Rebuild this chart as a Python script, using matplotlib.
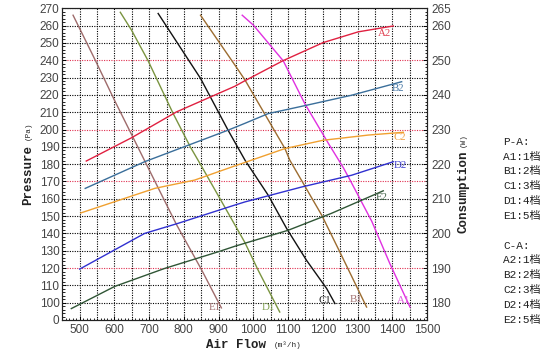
import matplotlib
matplotlib.use("Agg")
import matplotlib.pyplot as plt
from matplotlib.ticker import MultipleLocator, FixedLocator

# ---- P-A curves (left axis, pressure Pa vs air flow m3/h)
air_A1 = [968, 1000, 1086, 1148, 1216, 1259, 1278, 1341, 1393, 1451]
pa_A1 = [266, 260.3, 239.7, 215, 192, 178, 171, 147, 122.6, 97.5]
air_B1 = [848, 947, 976, 1004, 1091, 1105, 1197, 1249, 1326]
pa_B1 = [266, 237.2, 228.6, 218.9, 189, 182.3, 150.5, 129.3, 97.5]
air_C1 = [726, 848, 927, 976, 1043, 1096, 1153, 1211, 1235]
pa_C1 = [267, 229.5, 199.7, 182.3, 162, 142.8, 124.5, 108.2, 99.5]
air_D1 = [617, 649, 697, 769, 819, 848, 975, 1014, 1076]
pa_D1 = [267.7, 257.5, 239.7, 209.3, 189.8, 179.8, 135, 118.7, 94.6]
air_E1 = [481, 545, 600, 687, 779, 851, 908]
pa_E1 = [266, 240, 217, 182, 145, 119, 97]

# ---- C-A curves (right axis, consumption W vs air flow m3/h)
air_A2 = [519, 649, 779, 947, 976, 1086, 1201, 1302, 1403]
w_A2 = [220.9, 227.6, 235.1, 242.5, 244.1, 249.9, 255.1, 258.2, 259.9]
air_B2 = [516, 687, 927, 976, 1043, 1153, 1283, 1427]
w_B2 = [213, 220.7, 229.8, 231.8, 234.6, 237, 239.9, 243.8]
air_C2 = [503, 716, 831, 947, 976, 1091, 1201, 1331, 1432]
w_C2 = [205.9, 213, 215.4, 219.5, 220.5, 224.5, 226.9, 228.4, 229.2]
air_D2 = [500, 687, 783, 947, 976, 1139, 1283, 1403]
w_D2 = [189.7, 200, 202.9, 208.2, 209.1, 213.4, 216.8, 220.7]
air_E2 = [476, 601, 745, 899, 947, 1100, 1225, 1374]
w_E2 = [178.3, 184.7, 189.9, 194.7, 196.3, 200.9, 205.8, 212.3]

left_ticks = [90] + list(range(100, 271, 10))
left_labels = ["0"] + [str(v) for v in range(100, 271, 10)]
right_ticks = list(range(180, 261, 10)) + [265]
x_ticks = list(range(500, 1501, 100))
red_levels = [120, 170, 200, 240]

legend_lines = ["P-A:", "A1:1档", "B1:2档", "C1:3档", "D1:4档", "E1:5档", "",
                "C-A:", "A2:1档", "B2:2档", "C2:3档", "D2:4档", "E2:5档"]

W, H = 558, 358
fig = plt.figure(figsize=(W / 100, H / 100), dpi=100)
ax = fig.add_axes([62.3 / W, 1 - 320 / H, (427 - 62.3) / W, (320 - 8.3) / H])
ax2 = ax.twinx()

ax.set_xlim(450, 1500)
ax.set_ylim(90, 270)
ax2.set_ylim(175, 265)

# dotted grid, a few levels in red
dots = (0, (1, 1.2))
for x in range(500, 1500, 50):
    ax.axvline(x, color="#000000", lw=0.8, ls=dots, zorder=1)
for y in range(100, 271, 10):
    c = "#e03050" if y in red_levels else "#000000"
    ax.axhline(y, color=c, lw=0.8, ls=dots, zorder=1)

lw = 1.0
ax.plot(air_A1, pa_A1, color="#e030e0", lw=lw, zorder=3)
ax.plot(air_B1, pa_B1, color="#9c6c30", lw=lw, zorder=3)
ax.plot(air_C1, pa_C1, color="#111111", lw=lw, zorder=3)
ax.plot(air_D1, pa_D1, color="#7a9440", lw=lw, zorder=3)
ax.plot(air_E1, pa_E1, color="#9e6b6b", lw=lw, zorder=3)

ax2.plot(air_A2, w_A2, color="#e02040", lw=lw, zorder=3)
ax2.plot(air_B2, w_B2, color="#3a6e9a", lw=lw, zorder=3)
ax2.plot(air_C2, w_C2, color="#f0a030", lw=lw, zorder=3)
ax2.plot(air_D2, w_D2, color="#3030d0", lw=lw, zorder=3)
ax2.plot(air_E2, w_E2, color="#2f5535", lw=lw, zorder=3)

# curve labels
lab = dict(fontsize=7.8, family="Liberation Serif", ha="center", va="center", zorder=4)
ax.text(1432, 101, "A1", color="#e060e0", **lab)
ax.text(1297, 102, "B1", color="#a07070", **lab)
ax.text(1206, 101, "C1", color="#222222", **lab)
ax.text(1043, 97.5, "D1", color="#80a050", **lab)
ax.text(889, 97.5, "E1", color="#a07070", **lab)
ax2.text(1379, 257.8, "A2", color="#e04050", **lab)
ax2.text(1417, 241.9, "B2", color="#4a7aa8", **lab)
ax2.text(1422, 227.7, "C2", color="#f0a040", **lab)
ax2.text(1422, 219.7, "D2", color="#4040d0", **lab)
ax2.text(1369, 210.5, "E2", color="#3f6045", **lab)

# ticks
ax.xaxis.set_major_locator(FixedLocator(x_ticks))
ax.xaxis.set_minor_locator(MultipleLocator(10))
ax.yaxis.set_major_locator(FixedLocator(left_ticks))
ax.set_yticklabels(left_labels)
ax.yaxis.set_minor_locator(MultipleLocator(2))
ax2.yaxis.set_major_locator(FixedLocator(right_ticks))
ax2.yaxis.set_minor_locator(MultipleLocator(1))

tick_font = dict(labelsize=8.5, labelcolor="#444444")
ax.tick_params(axis="both", which="major", direction="in", length=3, width=0.7, pad=2, **tick_font)
ax.tick_params(axis="both", which="minor", direction="in", length=1.8, width=0.6)
ax.tick_params(axis="x", pad=3)
ax2.tick_params(axis="y", which="major", direction="in", length=3, width=0.7, pad=3, **tick_font)
ax2.tick_params(axis="y", which="minor", direction="in", length=1.8, width=0.6)
for t in ax.get_xticklabels() + ax.get_yticklabels() + ax2.get_yticklabels():
    t.set_family("Liberation Sans")

for a in (ax, ax2):
    for s in a.spines.values():
        s.set_linewidth(0.8)
        s.set_color("#222222")

# axis titles
mono = ["Liberation Mono", "Noto Sans CJK SC"]
fig.text(236.5 / W, 1 - 345 / H, "Air Flow", fontsize=9, family=mono,
         color="#222222", ha="center", va="center", fontweight="bold")
fig.text(288 / W, 1 - 345 / H, "(m³/h)", fontsize=5.5, family=mono,
         color="#222222", ha="center", va="center")
fig.text(28 / W, 1 - 175 / H, "Pressure", fontsize=9, family=mono, rotation=90,
         color="#222222", ha="center", va="center", fontweight="bold")
fig.text(28 / W, 1 - 131 / H, "(Pa)", fontsize=5.5, family=mono, rotation=90,
         color="#222222", ha="center", va="center")
fig.text(463 / W, 1 - 192 / H, "Consumption", fontsize=9, family=mono, rotation=90,
         color="#222222", ha="center", va="center", fontweight="bold")
fig.text(463 / W, 1 - 140 / H, "(W)", fontsize=5.5, family=mono, rotation=90,
         color="#222222", ha="center", va="center")

# legend block
for i, s in enumerate(legend_lines):
    if s:
        fig.text(503 / W, 1 - (141.7 + i * 14.85) / H, s, fontsize=8, family=mono,
                 color="#222222", ha="left", va="center")

fig.savefig("out.png", dpi=100)
